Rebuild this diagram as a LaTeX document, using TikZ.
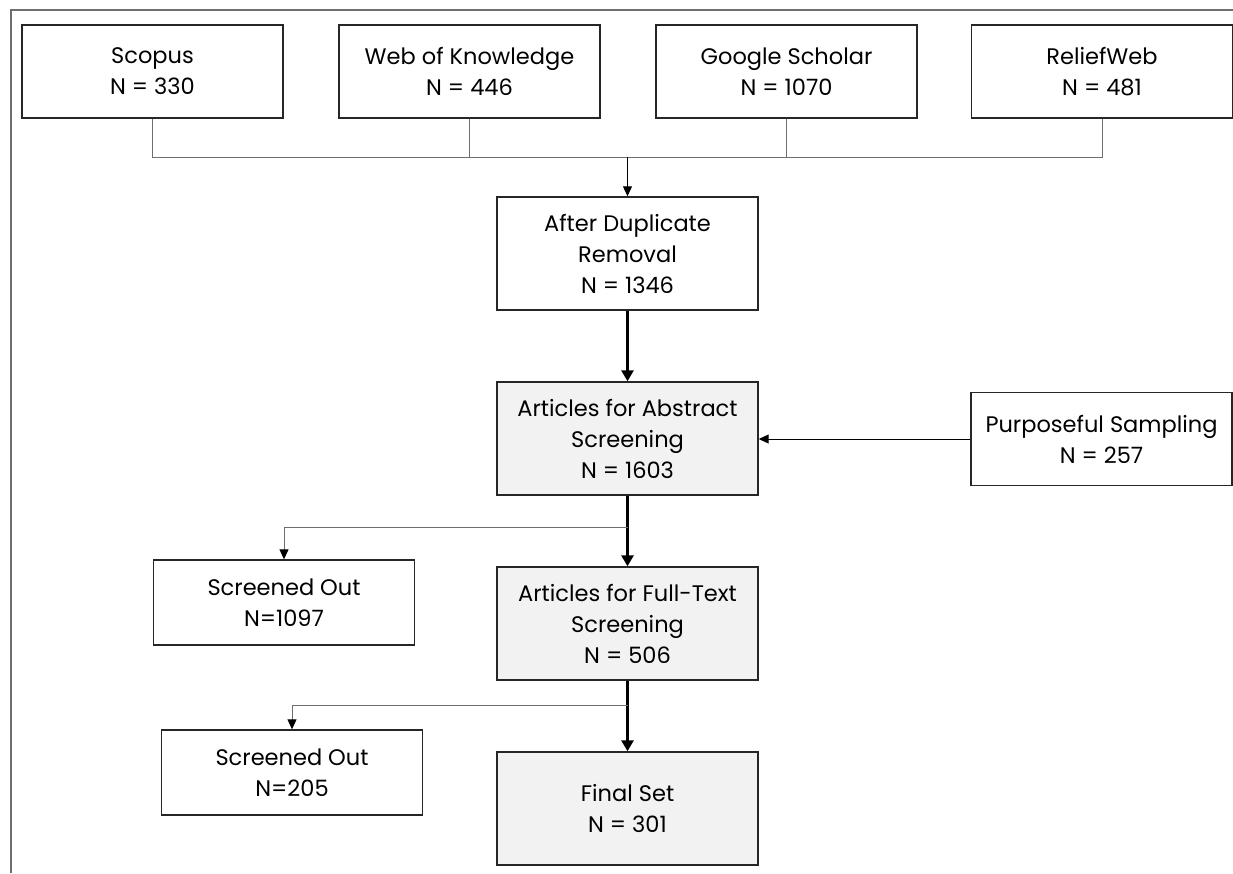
\documentclass[tikz,border=0pt]{standalone}
\usepackage{fontspec}
\setmainfont{Poppins}
\usetikzlibrary{arrows.meta}
\definecolor{boxgray}{HTML}{F2F2F2}
\definecolor{linegray}{HTML}{6E6E6E}
\begin{document}
\begin{tikzpicture}[x=1pt,y=-1pt,
  box/.style={draw=black!85,line width=1.4pt,minimum width=261pt,align=center,font=\fontsize{22.5}{31}\selectfont,inner sep=0pt},
  tall/.style={box,minimum height=113pt},
  short/.style={box,minimum height=93pt},
  mid/.style={box,minimum height=85pt},
  graybox/.style={fill=boxgray},
  thin/.style={draw=linegray,line width=1pt},
  thinarrow/.style={draw=black,line width=1pt,-{Triangle[length=10pt,width=9pt]}},
  brancharrow/.style={draw=linegray,line width=1pt,-{Triangle[length=10pt,width=9pt,fill=black,color=black]}},
  thickarrow/.style={draw=black,line width=3pt,-{Triangle[length=11pt,width=12pt]}},
]
\useasboundingbox (0,0) rectangle (1233,873);
\draw[linegray,line width=1.2pt] (11,873) -- (11,10) -- (1233,10);

\node[short] (scopus) at (152.5,71.5) {Scopus\\N = 330};
\node[short] (wok) at (469.5,71.5) {Web of Knowledge\\N = 446};
\node[short] (gs) at (786.5,71.5) {Google Scholar\\N = 1070};
\node[short] (rw) at (1102,71.5) {ReliefWeb\\N = 481};

\node[tall] (dup) at (627.5,253.5) {After Duplicate\\Removal\\N = 1346};
\node[tall,graybox] (abs) at (627.5,438.5) {Articles for Abstract\\Screening\\N = 1603};
\node[short] (ps) at (1101.5,439) {Purposeful Sampling\\N = 257};
\node[mid] (so1) at (284,602.5) {Screened Out\\N=1097};
\node[tall,graybox] (ft) at (627.5,623.5) {Articles for Full-Text\\Screening\\N = 506};
\node[mid] (so2) at (292,772.5) {Screened Out\\N=205};
\node[tall,graybox] (fin) at (627.5,808.5) {Final Set\\N = 301};

\coordinate (bar) at (627.5,157);
\draw[thin] (scopus.south) |- (bar);
\draw[thin] (wok.south) |- (bar);
\draw[thin] (gs.south) |- (bar);
\draw[thin] (rw.south) |- (bar);
\draw[thinarrow] (bar) -- (dup.north);

\draw[thickarrow] (dup.south) -- (abs.north);
\draw[thinarrow] (ps.west) -- (abs.east |- ps.west);

\coordinate (b1) at (627.5,527);
\draw[thickarrow] (abs.south) -- (ft.north);
\draw[brancharrow] (b1) -| (so1.north);

\coordinate (b2) at (627.5,705);
\draw[thickarrow] (ft.south) -- (fin.north);
\draw[brancharrow] (b2) -| (so2.north);
\end{tikzpicture}
\end{document}
